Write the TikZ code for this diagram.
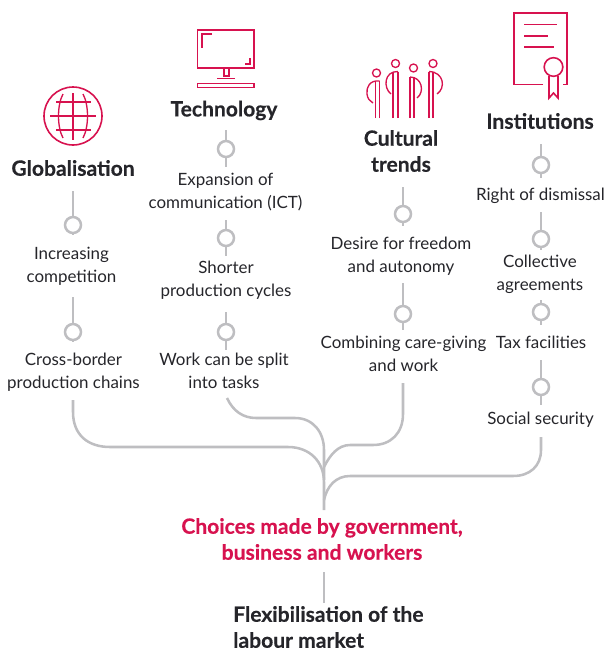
\documentclass[tikz,border=0pt]{standalone}
\usepackage{fontspec}
\setmainfont{Lato}
\newfontfamily\headf[BoldFeatures={FakeBold=0.35}]{Lato}
\definecolor{pinkc}{HTML}{D7124F}
\definecolor{greyc}{HTML}{BEBEC1}
\definecolor{textc}{HTML}{25252A}
\tikzset{
  body/.style={text=textc,align=center,font=\fontsize{12.7}{17}\selectfont,inner sep=0pt},
  head/.style={text=textc,align=center,font=\fontsize{15.8}{19.5}\selectfont\headf\bfseries,inner sep=0pt},
  dotn/.style={circle,draw=greyc,line width=1.9pt,fill=white,minimum size=12pt,inner sep=0pt},
  conn/.style={draw=greyc,line width=1.9pt},
  icon/.style={draw=pinkc,line width=1.2pt},
  iconthin/.style={draw=pinkc,line width=1pt}
}
\begin{document}
\begin{tikzpicture}[x=0.75pt,y=-0.75pt]
\useasboundingbox (0,0) rectangle (605,650);
% Connector ends
\foreach \n/\x/\y in {
 ga/73/191, gb/73/235, gc/73/297, gd/73/342,
 ta/226/130, tb/226/167, tc/226/220, td/226/256, te/226/312, tf/226/350,
 ca/403/187, cb/403/226, cc/403/283, cd/403/330,
 ia/541/144, ib/541/178, ic/541/212, id/541/250, ie/541/300, if/541/325, ig/541/360, ih/541/405,
 gs/73/400, ts/227/398, cs/403/383, is/541/437, hub/324/510, low/324/572, lowb/324/603}
 {\coordinate (\n) at (\x,\y);}
% Dots
\node[dotn] (gd1) at (73,225) {};
\node[dotn] (gd2) at (73,332) {};
\node[dotn] (td1) at (226,149) {};
\node[dotn] (td2) at (226,238) {};
\node[dotn] (td3) at (226,332) {};
\node[dotn] (cd1) at (403,214) {};
\node[dotn] (cd2) at (403,314) {};
\node[dotn] (id1) at (541,165) {};
\node[dotn] (id2) at (541,239) {};
\node[dotn] (id3) at (541,312) {};
\node[dotn] (id4) at (541,387) {};
\draw[conn] (ga)--(gd1) (gd1)--(gb) (gc)--(gd2) (gd2)--(gd);
\draw[conn] (ta)--(td1) (td1)--(tb) (tc)--(td2) (td2)--(td) (te)--(td3) (td3)--(tf);
\draw[conn] (ca)--(cd1) (cd1)--(cb) (cc)--(cd2) (cd2)--(cd);
\draw[conn] (ia)--(id1) (id1)--(ib) (ic)--(id2) (id2)--(id) (ie)--(id3) (id3)--(if) (ig)--(id4) (id4)--(ih);
% Tree
\draw[conn] (gs) -- (73,412) .. controls (73,435) and (88,447) .. (110,447) -- (288,447) .. controls (310,447) and (324,462) .. (324,482) -- (hub);
\draw[conn] (ts) .. controls (233,411) and (243,418) .. (256,418) -- (295,418) .. controls (313,418) and (324,432) .. (324,450) -- (324,480);
\draw[conn] (cs) -- (403,414) .. controls (403,433) and (391,445) .. (373,445) -- (350,445) .. controls (338,445) and (330,455) .. (324,467);
\draw[conn] (is) -- (541,450) .. controls (541,466) and (530,476) .. (513,476) -- (350,476) .. controls (336,476) and (327,486) .. (324,500);
\draw[conn] (low)--(lowb);
% Globe
\node[circle,draw=pinkc,line width=1.2pt,minimum size=43.5pt,inner sep=0pt] (globe) at (73,116) {};
\begin{scope}[iconthin]
\draw (50,116)--(96,116) (56,102)--(91,102) (56,130)--(91,130) (73,93)--(73,140);
\draw (63,94) .. controls (57,105) and (57,127) .. (63,138);
\draw (83,94) .. controls (89,105) and (89,127) .. (83,138);
\end{scope}
% Monitor
\begin{scope}[icon]
\draw (197.5,30) rectangle (254,68);
\draw (212,34) -- (202,34) -- (202,48);
\draw (250,58) -- (250,64) -- (245,64);
\draw (197.5,83.5) rectangle (254,87.5);
\draw (224,68) -- (224,76) -- (229,76) -- (229,68);
\draw (217,78.5) -- (235,78.5);
\end{scope}
% People
\begin{scope}[iconthin]
\node[circle,draw=pinkc,line width=1pt,minimum size=6pt,inner sep=0pt] (p1) at (376.5,73) {};
\node[circle,draw=pinkc,line width=1pt,minimum size=6pt,inner sep=0pt] (p2) at (395.5,63.5) {};
\node[circle,draw=pinkc,line width=1pt,minimum size=6pt,inner sep=0pt] (p3) at (413.5,68) {};
\node[circle,draw=pinkc,line width=1pt,minimum size=6pt,inner sep=0pt] (p4) at (433,63.5) {};
\draw (375.5,118) -- (375.5,81) (379.5,118) -- (379.5,81);
\draw (379.5,81) .. controls (370,80) and (366,87) .. (367,94) .. controls (367.5,99) and (370,101) .. (373,103);
\draw (393,118) -- (393,71.5) (398,118) -- (398,71.5);
\draw (398,71.5) .. controls (384,71) and (383,88) .. (391,94);
\draw (410,118) -- (410,77) (414,118) -- (414,77);
\draw (410,77) .. controls (422,77) and (425,92) .. (417,98);
\draw (429,118) -- (429,71.5) (433,118) -- (433,71.5);
\draw (429,71.5) .. controls (444,72) and (446,88) .. (437,94);
\end{scope}
% Certificate
\begin{scope}[icon]
\draw (543,84.5) -- (514,84.5) -- (514,13) -- (567,13) -- (567,84.5) -- (563,84.5);
\draw (524,24.5)--(557,24.5) (524,36)--(548,36) (524,47)--(554,47);
\node[circle,draw=pinkc,line width=1.2pt,minimum size=14pt,inner sep=0pt] (seal) at (553.5,67) {};
\draw (549,76) -- (549,98) -- (553.5,93) -- (558,98) -- (558,76);
\end{scope}
% Headings
\node[head] (h1) at (73,168) {Globalisation};
\node[head] (h2) at (224,110.5) {Technology};
\node[head] (h3) at (401,151) {Cultural\\trends};
\node[head] (h4) at (540,121) {Institutions};
% Text
\node[body] (g1) at (71.5,266) {Increasing\\competition};
\node[body] (g2) at (73.5,372.5) {Cross-border\\production chains};
\node[body] (t1) at (225.5,192) {Expansion of\\communication (ICT)};
\node[body] (t2) at (226,280.5) {Shorter\\production cycles};
\node[body] (t3) at (224,371) {Work can be split\\into tasks};
\node[body] (c1) at (401,256) {Desire for freedom\\and autonomy};
\node[body] (c2) at (403.5,354) {Combining care-giving\\and work};
\node[body] (i1) at (540.5,195.5) {Right of dismissal};
\node[body] (i2) at (540,274.5) {Collective\\agreements};
\node[body] (i3) at (541,342) {Tax facilities};
\node[body] (i4) at (540.5,419.5) {Social security};
\node[head,text=pinkc] (m) at (322,539) {Choices made by government,\\business and workers};
\node[head,align=left,anchor=west] (f) at (233,627) {Flexibilisation of the\\labour market};
\end{tikzpicture}
\end{document}
